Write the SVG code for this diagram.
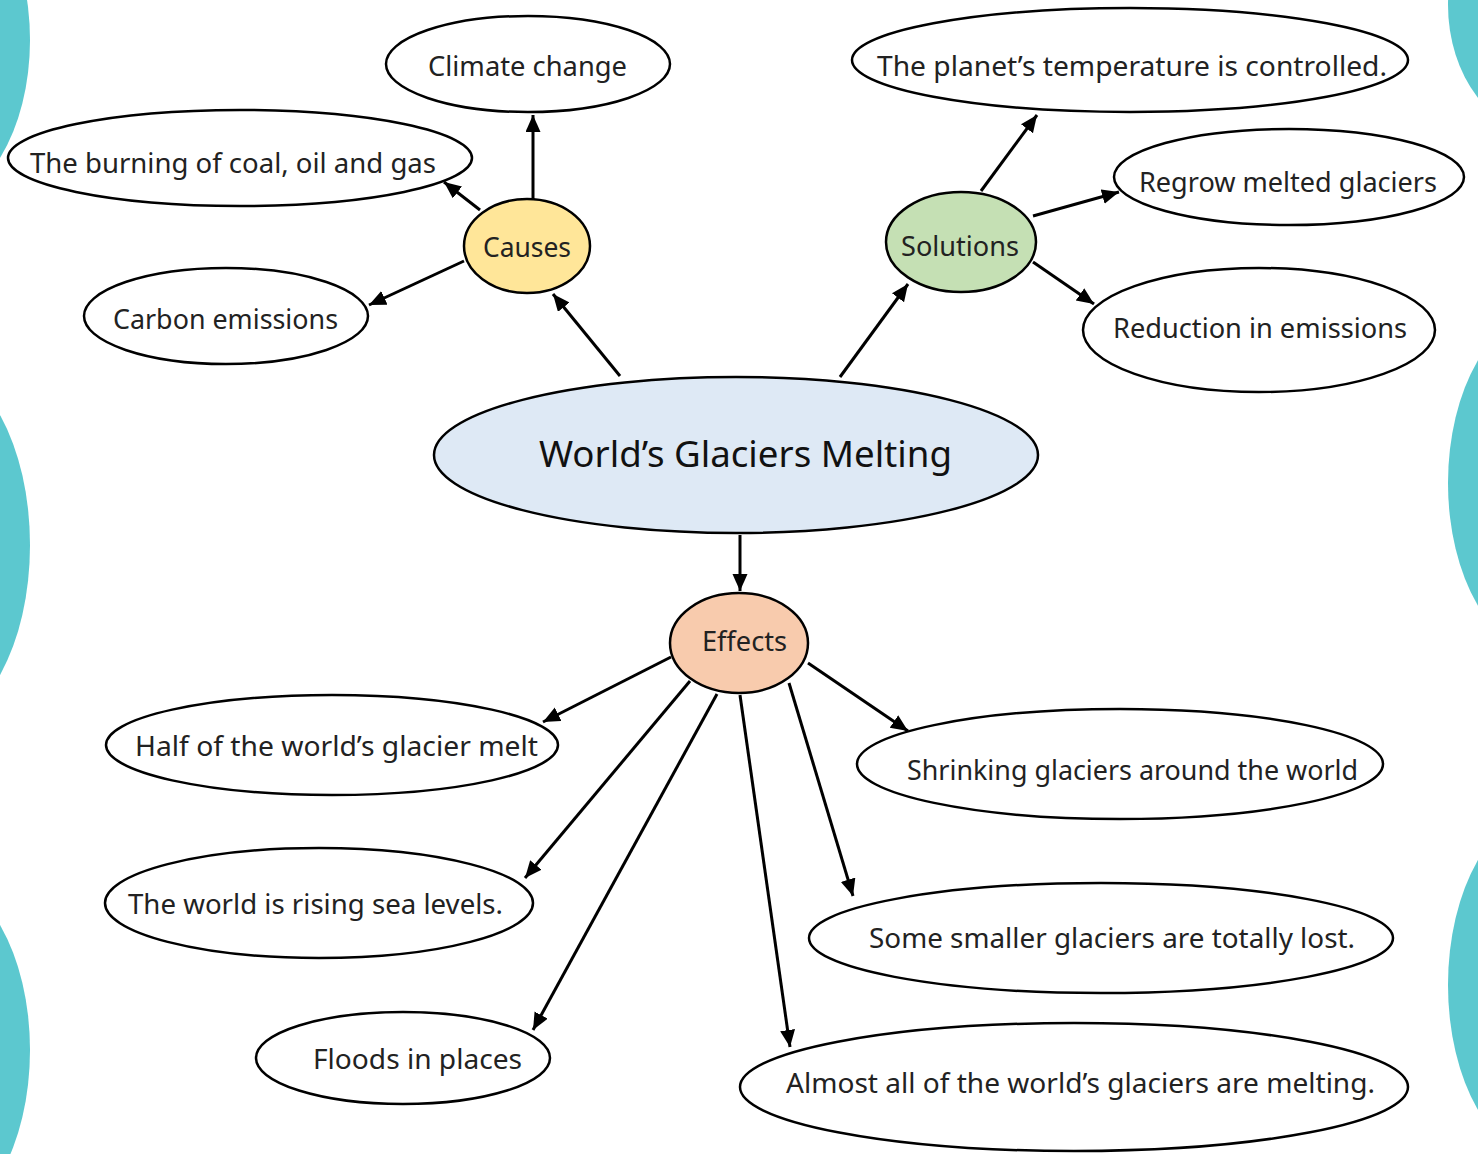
<svg xmlns="http://www.w3.org/2000/svg" width="1478" height="1154" viewBox="0 0 1478 1154">
<defs>
<style>
.node{stroke:#000;stroke-width:2.5}
.leaf{fill:#fff}
.t{font-family:"Noto Sans","Open Sans",sans-serif;font-size:28px;fill:#222}
.big{font-size:36px;fill:#111}
.c{stroke:#000;stroke-width:3;fill:none;marker-end:url(#ah)}
.deco{fill:#5cc8cf}
</style>
<marker id="ah" markerUnits="userSpaceOnUse" markerWidth="18" markerHeight="16" refX="17" refY="7.5" orient="auto">
<path d="M0,0 L17,7.5 L0,15 z" fill="#000"/>
</marker>
</defs>
<rect width="1478" height="1154" fill="#fff"/>
<g id="decor">
<ellipse class="deco" cx="-70" cy="40" rx="100" ry="165"/>
<ellipse class="deco" cx="-70" cy="545" rx="100" ry="182"/>
<ellipse class="deco" cx="-70" cy="1050" rx="100" ry="175"/>
<ellipse class="deco" cx="1548" cy="5" rx="100" ry="130"/>
<ellipse class="deco" cx="1548" cy="483" rx="100" ry="172"/>
<ellipse class="deco" cx="1548" cy="985" rx="100" ry="175"/>
</g>
<g id="connectors">
<line class="c" x1="620" y1="376" x2="553" y2="294"/>
<line class="c" x1="840" y1="377" x2="908" y2="284"/>
<line class="c" x1="740" y1="535" x2="740" y2="591"/>
<line class="c" x1="533" y1="199" x2="533" y2="115"/>
<line class="c" x1="480" y1="210" x2="444" y2="182"/>
<line class="c" x1="464" y1="261" x2="369" y2="305"/>
<line class="c" x1="981" y1="191" x2="1037" y2="115"/>
<line class="c" x1="1033" y1="216" x2="1119" y2="192"/>
<line class="c" x1="1033" y1="262" x2="1094" y2="304"/>
<line class="c" x1="671" y1="657" x2="543" y2="722"/>
<line class="c" x1="690" y1="681" x2="525" y2="878"/>
<line class="c" x1="717" y1="694" x2="533" y2="1030"/>
<line class="c" x1="740" y1="695" x2="790" y2="1047"/>
<line class="c" x1="789" y1="683" x2="853" y2="896"/>
<line class="c" x1="808" y1="663" x2="908" y2="731"/>
</g>
<g id="central">
<ellipse class="node" cx="736" cy="455" rx="302" ry="78" fill="#dee9f5"/>
<text class="t big" x="539" y="467" textLength="413" lengthAdjust="spacingAndGlyphs">World’s Glaciers Melting</text>
</g>
<g id="causes">
<ellipse class="node" cx="527" cy="246" rx="63" ry="47" fill="#ffe699"/>
<text class="t" x="483" y="257" textLength="88" lengthAdjust="spacingAndGlyphs">Causes</text>
</g>
<g id="solutions">
<ellipse class="node" cx="961" cy="242" rx="75" ry="50" fill="#c5e0b4"/>
<text class="t" x="901" y="256" textLength="118" lengthAdjust="spacingAndGlyphs">Solutions</text>
</g>
<g id="effects">
<ellipse class="node" cx="739" cy="643" rx="69" ry="50" fill="#f8cbad"/>
<text class="t" x="702" y="651" textLength="85" lengthAdjust="spacingAndGlyphs">Effects</text>
</g>
<g id="climate">
<ellipse class="node leaf" cx="528" cy="64" rx="142" ry="48"/>
<text class="t" x="428" y="76" textLength="199" lengthAdjust="spacingAndGlyphs">Climate change</text>
</g>
<g id="burning">
<ellipse class="node leaf" cx="240" cy="158" rx="232" ry="48"/>
<text class="t" x="30" y="173" textLength="406" lengthAdjust="spacingAndGlyphs">The burning of coal, oil and gas</text>
</g>
<g id="carbon">
<ellipse class="node leaf" cx="226" cy="316" rx="142" ry="48"/>
<text class="t" x="113" y="329" textLength="225" lengthAdjust="spacingAndGlyphs">Carbon emissions</text>
</g>
<g id="planet">
<ellipse class="node leaf" cx="1130" cy="60" rx="278" ry="52"/>
<text class="t" x="877" y="76" textLength="510" lengthAdjust="spacingAndGlyphs">The planet’s temperature is controlled.</text>
</g>
<g id="regrow">
<ellipse class="node leaf" cx="1289" cy="177" rx="175" ry="48"/>
<text class="t" x="1139" y="192" textLength="298" lengthAdjust="spacingAndGlyphs">Regrow melted glaciers</text>
</g>
<g id="reduction">
<ellipse class="node leaf" cx="1259" cy="330" rx="176" ry="62"/>
<text class="t" x="1113" y="338" textLength="294" lengthAdjust="spacingAndGlyphs">Reduction in emissions</text>
</g>
<g id="half">
<ellipse class="node leaf" cx="332" cy="745" rx="226" ry="50"/>
<text class="t" x="135" y="756" textLength="403" lengthAdjust="spacingAndGlyphs">Half of the world’s glacier melt</text>
</g>
<g id="shrinking">
<ellipse class="node leaf" cx="1120" cy="764" rx="263" ry="55"/>
<text class="t" x="907" y="780" textLength="451" lengthAdjust="spacingAndGlyphs">Shrinking glaciers around the world</text>
</g>
<g id="rising">
<ellipse class="node leaf" cx="319" cy="903" rx="214" ry="55"/>
<text class="t" x="128" y="914" textLength="375" lengthAdjust="spacingAndGlyphs">The world is rising sea levels.</text>
</g>
<g id="smaller">
<ellipse class="node leaf" cx="1101" cy="938" rx="292" ry="55"/>
<text class="t" x="869" y="948" textLength="486" lengthAdjust="spacingAndGlyphs">Some smaller glaciers are totally lost.</text>
</g>
<g id="floods">
<ellipse class="node leaf" cx="403" cy="1058" rx="147" ry="46"/>
<text class="t" x="313" y="1069" textLength="209" lengthAdjust="spacingAndGlyphs">Floods in places</text>
</g>
<g id="almost">
<ellipse class="node leaf" cx="1074" cy="1087" rx="334" ry="64"/>
<text class="t" x="786" y="1093" textLength="589" lengthAdjust="spacingAndGlyphs">Almost all of the world’s glaciers are melting.</text>
</g>
</svg>
